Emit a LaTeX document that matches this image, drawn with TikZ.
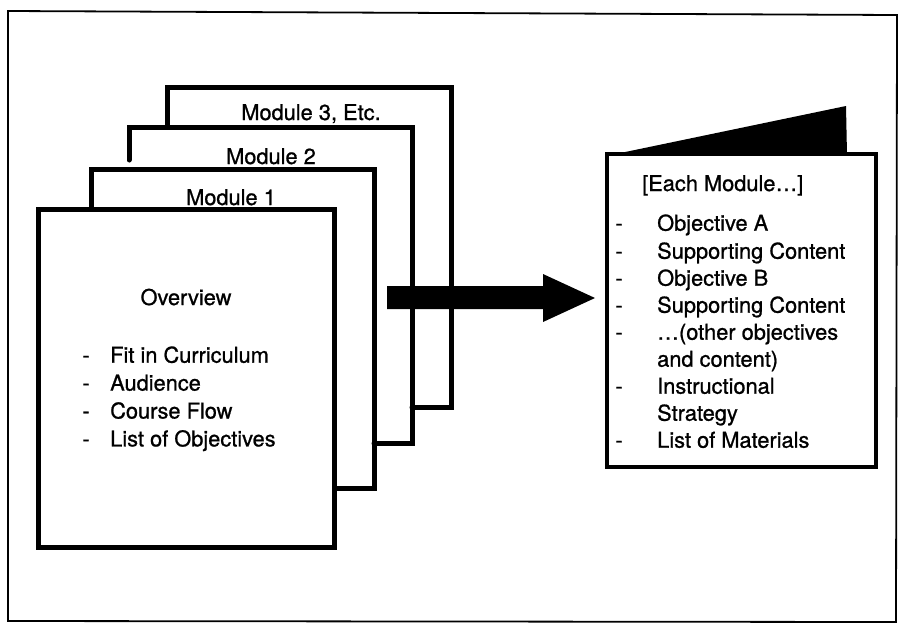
\documentclass[tikz,border=0pt]{standalone}
\usepackage{fontspec}
\setmainfont{TeX Gyre Heros}[FakeBold=0.9]
\begin{document}
\begin{tikzpicture}[x=1pt,y=-1pt,
  page/.style={line width=5pt,line join=miter},
  txt/.style={inner sep=0pt,font=\fontsize{21.8}{27}\selectfont},
  item/.style={txt,anchor=base west},
  dashmark/.style={txt,anchor=base}]
\useasboundingbox (0,0) rectangle (899,625);
% outer frame
\draw[line width=1.8pt] (8,11) -- (897,15) -- (896,622) -- (8,621) -- cycle;
% Module pages (back to front)
\coordinate (m3a) at (167,127); \coordinate (m3b) at (167,87);
\coordinate (m3c) at (451,87);  \coordinate (m3d) at (451,407);
\coordinate (m3e) at (412,407);
\draw[page,line cap=round] (m3a) -- (m3b) -- (m3c) -- (m3d) -- (m3e);
\coordinate (m2a) at (129,160); \coordinate (m2b) at (129,127);
\coordinate (m2c) at (412,127); \coordinate (m2d) at (412,443);
\coordinate (m2e) at (374,443);
\draw[page,line cap=round] (m2a) -- (m2b) -- (m2c) -- (m2d) -- (m2e);
\coordinate (m1a) at (91,209); \coordinate (m1b) at (91,169);
\coordinate (m1c) at (374,169); \coordinate (m1d) at (374,488);
\coordinate (m1e) at (334,488);
\draw[page] (m1a) -- (m1b) -- (m1c) -- (m1d) -- (m1e);
\draw[page,fill=white] (38,209) rectangle (334,547);
% labels
\node[txt,anchor=base] (l3) at (311,120) {Module 3, Etc.};
\node[txt,anchor=base] (l2) at (271,164) {Module 2};
\node[txt,anchor=base] (l1) at (231,205) {Module 1};
% overview text
\node[txt,anchor=base] (ov) at (186,305) {Overview};
\node[dashmark] (od1) at (86,362.7) {-}; \node[item] (ot1) at (110,362.7) {Fit in Curriculum};
\node[dashmark] (od2) at (86,390.6) {-}; \node[item] (ot2) at (110,390.6) {Audience};
\node[dashmark] (od3) at (86,418.5) {-}; \node[item] (ot3) at (110,418.5) {Course Flow};
\node[dashmark] (od4) at (86,446.4) {-}; \node[item] (ot4) at (110,446.4) {List of Objectives};
% big arrow
\fill (387,286) -- (543,286) -- (543,274) -- (595,298) -- (543,322) -- (543,309) -- (387,309) -- cycle;
% booklet
\fill (606,156) -- (846,106) -- (847,155) -- cycle;
\draw[line width=4.5pt,fill=white] (607,154) rectangle (876,467);
\node[item] (eh) at (642,191) {[Each Module\ldots]};
\node[dashmark] (rd1) at (619,230.7) {-}; \node[item] (rt1) at (657,230.7) {Objective A};
\node[dashmark] (rd2) at (619,258.7) {-}; \node[item] (rt2) at (657,258.7) {Supporting Content};
\node[dashmark] (rd3) at (619,285.7) {-}; \node[item] (rt3) at (657,285.7) {Objective B};
\node[dashmark] (rd4) at (619,312.7) {-}; \node[item] (rt4) at (657,312.7) {Supporting Content};
\node[dashmark] (rd5) at (619,339.7) {-}; \node[item] (rt5) at (657,339.7) {\ldots(other objectives};
\node[item] (rt6) at (657,366.7) {and content)};
\node[dashmark] (rd7) at (619,393.7) {-}; \node[item] (rt7) at (657,393.7) {Instructional};
\node[item] (rt8) at (657,420.7) {Strategy};
\node[dashmark] (rd9) at (619,447.7) {-}; \node[item] (rt9) at (657,447.7) {List of Materials};
\end{tikzpicture}
\end{document}
